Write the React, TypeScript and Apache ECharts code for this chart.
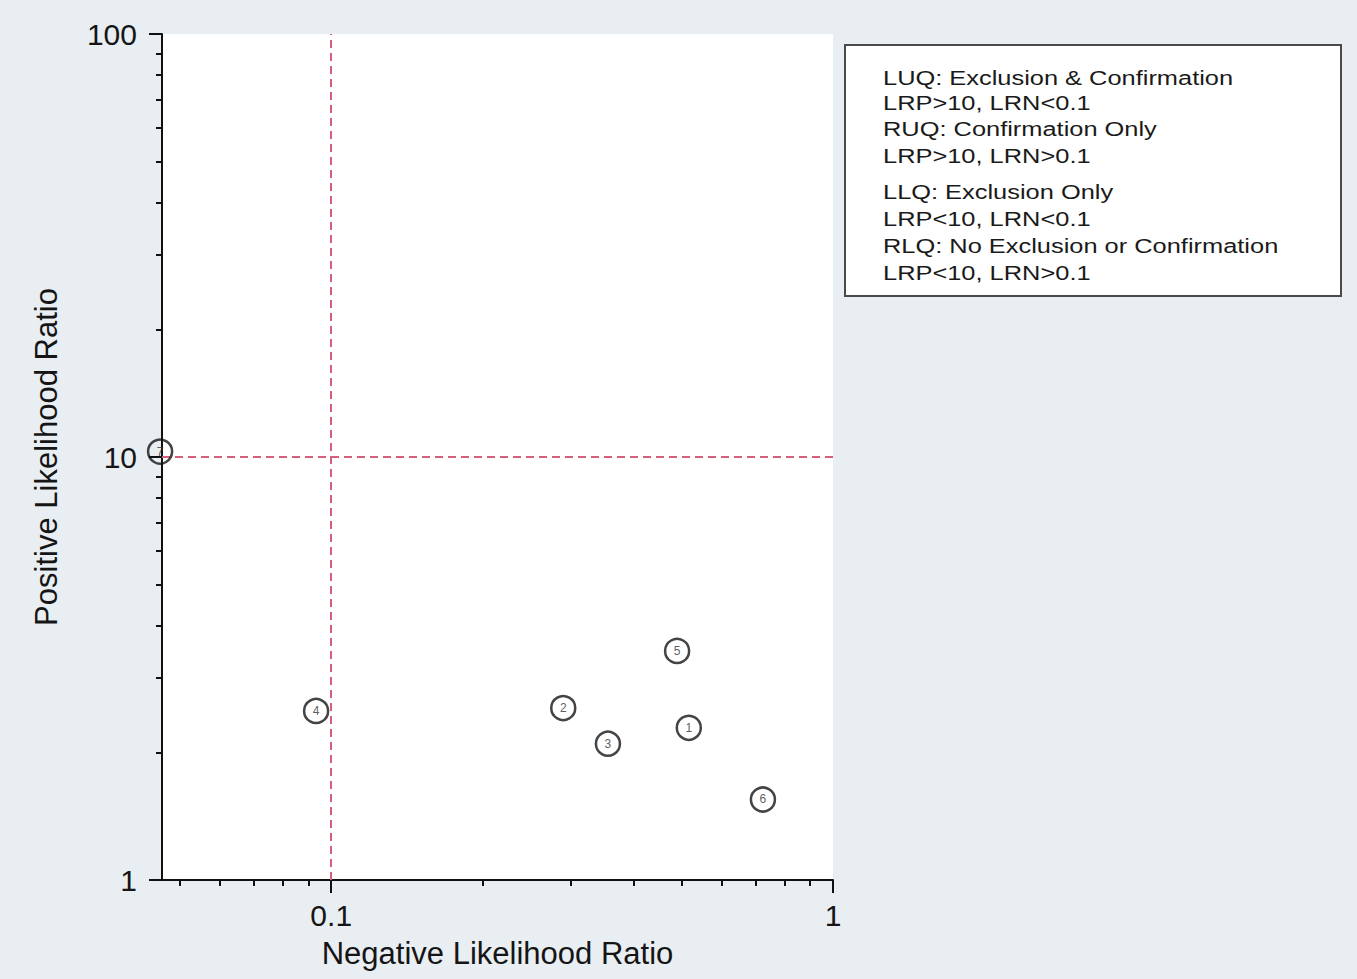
import React, { useEffect, useRef } from 'react';
import * as echarts from 'echarts';

// ---- data ----
const studyIds = ['1', '2', '3', '4', '5', '6', '7'];
const negativeLR = [0.516, 0.29, 0.356, 0.0933, 0.489, 0.725, 0.0456];
const positiveLR = [2.29, 2.55, 2.1, 2.51, 3.48, 1.55, 10.3];

const xRange = [0.046, 1];
const yRange = [1, 100];
const xMajorTicks = [0.1, 1];
const xMinorTicks = [0.05, 0.06, 0.07, 0.08, 0.09, 0.2, 0.3, 0.4, 0.5, 0.6, 0.7, 0.8, 0.9];
const yMajorTicks = [1, 10, 100];
const yMinorTicks = [2, 3, 4, 5, 6, 7, 8, 9, 20, 30, 40, 50, 60, 70, 80, 90];
const xThreshold = 0.1;
const yThreshold = 10;

const legendLines = [
  'LUQ: Exclusion & Confirmation',
  'LRP>10, LRN<0.1',
  'RUQ: Confirmation Only',
  'LRP>10, LRN>0.1',
  'LLQ: Exclusion Only',
  'LRP<10, LRN<0.1',
  'RLQ: No Exclusion or Confirmation',
  'LRP<10, LRN>0.1',
];
const legendLineY = [78, 103, 129, 156, 192, 219, 246, 273];

const lg = (v: number) => Math.log10(v);
const fmt = (v: number) => String(Math.round(Math.pow(10, v) * 1000) / 1000);

const FONT = '"Liberation Sans", Arial, Helvetica, sans-serif';
const GRID = { left: 162, top: 34, width: 671, height: 846 };

export default function App() {
  const ref = useRef<HTMLDivElement>(null);
  useEffect(() => {
    if (!ref.current) return;
    const chart = echarts.init(ref.current, undefined, { renderer: 'svg' });

    const baseX = {
      type: 'value' as const,
      gridIndex: 0,
      position: 'bottom' as const,
      min: lg(xRange[0]),
      max: lg(xRange[1]),
      splitLine: { show: false },
    };
    const baseY = {
      type: 'value' as const,
      gridIndex: 0,
      position: 'left' as const,
      min: lg(yRange[0]),
      max: lg(yRange[1]),
      splitLine: { show: false },
    };

    const option: any = {
      animation: false,
      backgroundColor: '#e9eef2',
      textStyle: { fontFamily: FONT },
      grid: {
        ...GRID,
        show: true,
        backgroundColor: '#ffffff',
        borderWidth: 0,
      },
      xAxis: [
        {
          ...baseX,
          name: 'Negative Likelihood Ratio',
          nameLocation: 'middle',
          nameGap: 58,
          nameTextStyle: { fontSize: 31, color: '#151515', fontFamily: FONT },
          axisLine: { show: true, onZero: false, lineStyle: { color: '#111', width: 2 } },
          axisTick: {
            show: true,
            length: 13,
            lineStyle: { color: '#111', width: 2 },
            customValues: xMajorTicks.map(lg),
          },
          axisLabel: {
            show: true,
            fontSize: 30,
            color: '#151515',
            margin: 20,
            customValues: xMajorTicks.map(lg),
            formatter: (v: number) => fmt(v),
          },
        },
        {
          ...baseX,
          axisLine: { show: false, onZero: false },
          axisTick: {
            show: true,
            length: 6,
            lineStyle: { color: '#111', width: 2 },
            customValues: xMinorTicks.map(lg),
          },
          axisLabel: { show: false },
        },
      ],
      yAxis: [
        {
          ...baseY,
          name: 'Positive Likelihood Ratio',
          nameLocation: 'middle',
          nameGap: 100,
          nameRotate: 90,
          nameTextStyle: { fontSize: 31, color: '#151515', fontFamily: FONT },
          axisLine: { show: true, onZero: false, lineStyle: { color: '#111', width: 2 } },
          axisTick: {
            show: true,
            length: 13,
            lineStyle: { color: '#111', width: 2 },
            customValues: yMajorTicks.map(lg),
          },
          axisLabel: {
            show: true,
            fontSize: 30,
            color: '#151515',
            margin: 25,
            customValues: yMajorTicks.map(lg),
            formatter: (v: number) => fmt(v),
          },
        },
        {
          ...baseY,
          axisLine: { show: false, onZero: false },
          axisTick: {
            show: true,
            length: 6,
            lineStyle: { color: '#111', width: 2 },
            customValues: yMinorTicks.map(lg),
          },
          axisLabel: { show: false },
        },
      ],
      series: [
        {
          type: 'scatter',
          xAxisIndex: 0,
          yAxisIndex: 0,
          clip: false,
          symbol: 'circle',
          symbolSize: 24,
          itemStyle: { color: 'rgba(255,255,255,0)', borderColor: '#151515', borderWidth: 2.5 },
          label: {
            show: true,
            position: 'inside',
            fontSize: 12,
            color: '#333',
            formatter: (p: any) => p.data[2],
          },
          data: studyIds.map((id, i) => [lg(negativeLR[i]), lg(positiveLR[i]), id]),
          markLine: {
            silent: true,
            symbol: ['none', 'none'],
            label: { show: false },
            lineStyle: { type: [8, 5], color: '#d4607c', width: 2 },
            data: [{ xAxis: lg(xThreshold) }, { yAxis: lg(yThreshold) }],
            z: 1,
          },
        },
      ],
      graphic: [
        {
          type: 'group',
          children: [
            {
              type: 'rect',
              shape: { x: 845, y: 45, width: 496, height: 251 },
              style: { fill: '#ffffff', stroke: '#4a4a4a', lineWidth: 2 },
            },
            ...legendLines.map((t, i) => ({
              type: 'text',
              x: 883,
              y: legendLineY[i],
              scaleX: 1.27,
              style: {
                text: t,
                fontSize: 20,
                fontFamily: FONT,
                fill: '#1a1a1a',
                verticalAlign: 'middle',
                align: 'left',
              },
            })),
          ],
        },
      ],
    };
    chart.setOption(option);
    return () => chart.dispose();
  }, []);

  return (
    <div
      ref={ref}
      style={{ position: 'fixed', left: 0, top: 0, width: 1357, height: 979 }}
    />
  );
}
